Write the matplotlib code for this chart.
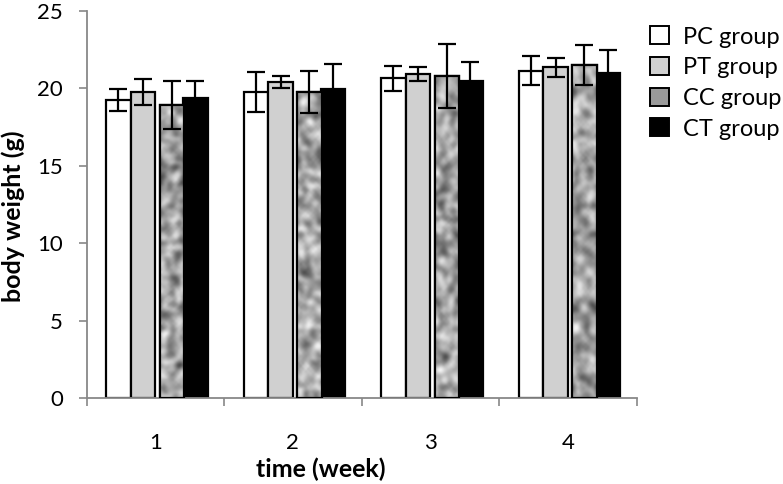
import numpy as np
import matplotlib
matplotlib.use('Agg')
import matplotlib.pyplot as plt
from matplotlib.patches import Patch

weeks = ['1', '2', '3', '4']
groups = ['PC group', 'PT group', 'CC group', 'CT group']

pc_mean = [19.25, 19.75, 20.65, 21.15]
pc_err = [0.7, 1.3, 0.8, 0.95]
pt_mean = [19.75, 20.4, 20.95, 21.35]
pt_err = [0.85, 0.4, 0.45, 0.6]
cc_mean = [18.9, 19.75, 20.8, 21.5]
cc_err = [1.55, 1.35, 2.05, 1.3]
ct_mean = [19.4, 19.95, 20.5, 21.0]
ct_err = [1.05, 1.6, 1.2, 1.45]

means = [pc_mean, pt_mean, cc_mean, ct_mean]
errs = [pc_err, pt_err, cc_err, ct_err]

plt.rcParams['font.family'] = ['Lato', 'DejaVu Sans']

fig = plt.figure(figsize=(7.83, 4.84), dpi=100)
ax = fig.add_axes([0.1107, 0.1777, 0.7024, 0.7996])

x = np.arange(len(weeks))
offsets = [-0.27, -0.09, 0.12, 0.29]
width = 0.178
faces = ['white', '#d0d0d0', '#9a9a9a', 'black']


def granite(rows, cols, seed):
    # blotchy grey texture for the CC bars (decoration only)
    rng = np.random.default_rng(seed)
    t = rng.random((rows, cols))
    for _ in range(2):
        t = (t + np.roll(t, 1, 0) + np.roll(t, -1, 0)
             + np.roll(t, 1, 1) + np.roll(t, -1, 1)) / 5
    return (t - t.min()) / (t.max() - t.min())


for i in range(4):
    bars = ax.bar(x + offsets[i], means[i], width, color=faces[i],
                  edgecolor='black', linewidth=1.6, zorder=2)
    if i == 2:
        for k, b in enumerate(bars):
            tex = granite(120, 10, k + 1)
            im = ax.imshow(tex, cmap='gray', vmin=-0.35, vmax=1.0,
                           extent=[b.get_x(), b.get_x() + b.get_width(), 0, b.get_height()],
                           aspect='auto', zorder=2.5, interpolation='bicubic')
            im.set_clip_path(b)
            ax.bar(b.get_x() + b.get_width() / 2, b.get_height(), b.get_width(),
                   fill=False, edgecolor='black', linewidth=1.6, zorder=2.6)
    ax.errorbar(x + offsets[i], means[i], yerr=errs[i], fmt='none', ecolor='black',
                elinewidth=1.6, capsize=6.5, capthick=1.6, zorder=3)

ax.set_xlim(-0.5, 3.5)
ax.set_ylim(0, 25)
ax.set_yticks([0, 5, 10, 15, 20, 25])
ax.set_xticks(x)
ax.set_xticklabels(weeks)
ax.set_xticks(np.arange(-0.5, 4.0, 1.0), minor=True)
ax.tick_params(axis='x', which='major', length=0, pad=25, labelsize=16)
ax.tick_params(axis='x', which='minor', length=6, width=1.2, color='#888888', direction='out')
ax.tick_params(axis='y', length=6, width=1.2, color='#888888', pad=11, labelsize=16)

for s in ['top', 'right']:
    ax.spines[s].set_visible(False)
for s in ['left', 'bottom']:
    ax.spines[s].set_color('#888888')
    ax.spines[s].set_linewidth(1.3)

ax.set_xlabel('time (week)', fontsize=18, fontweight='bold')
ax.set_ylabel('body weight (g)', fontsize=18, fontweight='bold')
ax.xaxis.set_label_coords(0.426, -0.155)
ax.yaxis.set_label_coords(-0.112, 0.47)

handles = [Patch(facecolor=faces[i], edgecolor='black', linewidth=1.4) for i in range(4)]
fig.legend(handles, groups, loc='upper left', bbox_to_anchor=(0.818, 0.965),
           frameon=False, fontsize=17, handlelength=0.8, handleheight=0.8,
           handletextpad=0.6, labelspacing=0.4, borderaxespad=0)

fig.savefig('out.png', dpi=100)
